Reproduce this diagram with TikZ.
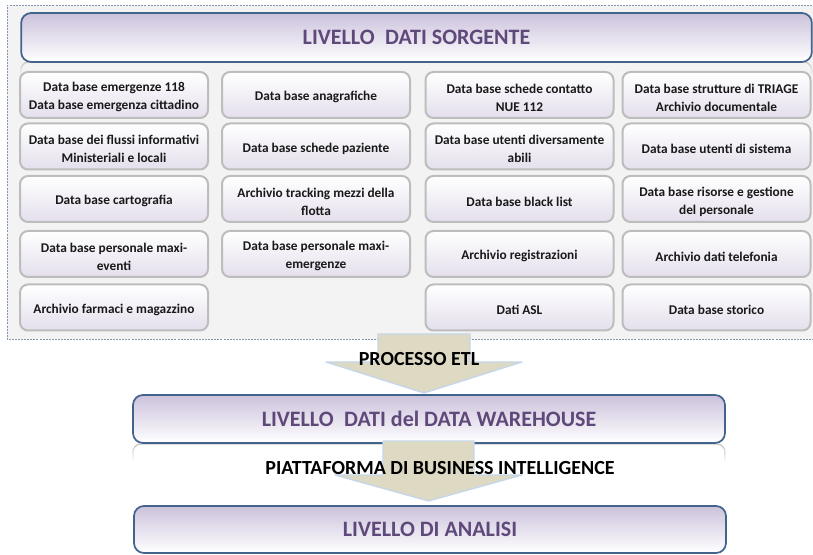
\documentclass[tikz,border=0pt]{standalone}
\usepackage{fontspec}
\setmainfont{Carlito}
\usetikzlibrary{fadings}
\definecolor{titleblue}{HTML}{41638C}
\definecolor{lav}{HTML}{CCC2DC}
\definecolor{purp}{HTML}{5F497A}
\definecolor{boxgray}{HTML}{BDBDBD}
\definecolor{boxlav}{HTML}{E4DFEC}
\definecolor{tanc}{HTML}{DDD9C3}
\definecolor{glow}{HTML}{C6D6EA}
\definecolor{framegray}{HTML}{F3F3F3}
\definecolor{dashc}{HTML}{8497B0}
\begin{document}
\begin{tikzpicture}[x=0.75pt,y=-0.75pt,
 sboxshape/.style={draw=boxgray, line width=1.5pt, rounded corners=6pt, top color=white, bottom color=boxlav,
   minimum width=141pt, minimum height=34.5pt, inner sep=0pt},
 sblabel/.style={align=center, inner sep=0pt, yshift=-1.8pt,
   font=\bfseries\fontsize{10}{13.5}\selectfont, text=black!90},
 sb/.style={sboxshape, label={[sblabel]center:{#1}}},
 level/.style={draw=titleblue, line width=1.3pt, rounded corners=7.5pt, top color=lav, bottom color=white,
   text=purp, font=\bfseries\fontsize{16.5}{20}\selectfont},
 blockarrow/.style={fill=tanc, draw=glow, line width=1pt, line join=round},
 arrowlabel/.style={font=\bfseries\fontsize{15}{18}\selectfont, text=black},
 refl/.style={draw=gray!45, line width=1pt, path fading=south}
]
\useasboundingbox (0,0) rectangle (813,555);
% frame
\fill[framegray] (7,5) rectangle (815,339);
\draw[dashc, line width=0.6pt, dash pattern=on 1.5pt off 0.8pt] (815,5) -- (7,5) -- (7,339) -- (815,339);
% reflection of title box
\draw[refl] (21,74) -- (21,70) arc[start angle=180, end angle=270, radius=8] -- (804,62) arc[start angle=270, end angle=360, radius=8] -- (812,74);
% title
\node[level, minimum width=593pt, minimum height=36.75pt] (src) at (416.5,37.5) {LIVELLO\hspace{0.25em} DATI SORGENTE};
% column 1
\node[sb={Data base emergenze 118\\Data base emergenza cittadino}] (a1) at (114,95) {};
\node[sb={Data base dei flussi informativi\\Ministeriali e locali}] (a2) at (114,146.5) {};
\node[sb={Data base cartografia}] (a3) at (114,199) {};
\node[sb={Data base personale maxi-\\eventi}] (a4) at (114,254) {};
\node[sb={Archivio farmaci e magazzino}] (a5) at (114,307.5) {};
% column 2
\node[sb={Data base anagrafiche}] (b1) at (316,95) {};
\node[sb={Data base schede paziente}] (b2) at (316,146.5) {};
\node[sb={Archivio tracking mezzi della\\flotta}] (b3) at (316,199) {};
\node[sb={Data base personale maxi-\\emergenze}] (b4) at (316,254) {};
% column 3
\node[sb={Data base schede contatto\\NUE 112}] (c1) at (519.5,95) {};
\node[sb={Data base utenti diversamente\\abili}] (c2) at (519.5,146.5) {};
\node[sb={Data base black list}] (c3) at (519.5,199) {};
\node[sb={Archivio registrazioni}] (c4) at (519.5,254) {};
\node[sb={Dati ASL}] (c5) at (519.5,307.5) {};
% column 4
\node[sb={Data base strutture di TRIAGE\\Archivio documentale}] (d1) at (716.5,95) {};
\node[sb={Data base utenti di sistema}] (d2) at (716.5,146.5) {};
\node[sb={Data base risorse e gestione\\del personale}] (d3) at (716.5,199) {};
\node[sb={Archivio dati telefonia}] (d4) at (716.5,254) {};
\node[sb={Data base storico}] (d5) at (716.5,307.5) {};
% arrow 1
\draw[blockarrow] (378,334) -- (470,334) -- (470,362) -- (522,362) -- (424,393) -- (326,362) -- (378,362) -- cycle;
\node[arrowlabel] (etl) at (419,359) {PROCESSO ETL};
% warehouse
\draw[refl] (133,462) -- (133,452) arc[start angle=180, end angle=270, radius=8] -- (717,444) arc[start angle=270, end angle=360, radius=8] -- (725,462);
\node[level, minimum width=444pt, minimum height=36pt] (dw) at (429,419) {LIVELLO\hspace{0.25em} DATI del DATA WAREHOUSE};
% arrow 2
\draw[blockarrow] (383,441) -- (474,441) -- (474,475) -- (522,475) -- (428.5,501) -- (335,475) -- (383,475) -- cycle;
\node[arrowlabel] (bi) at (440,468) {PIATTAFORMA DI BUSINESS INTELLIGENCE};
% analysis
\node[level, minimum width=444pt, minimum height=35.25pt] (an) at (430,529.5) {LIVELLO DI ANALISI};
\end{tikzpicture}
\end{document}
